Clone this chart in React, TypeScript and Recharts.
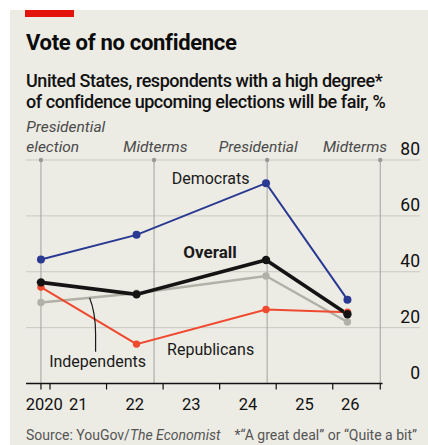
import { LineChart, Line, XAxis, YAxis, ReferenceLine, ReferenceDot } from 'recharts';

// poll dates as decimal years
const pollDates = [2020.84, 2022.53, 2024.82, 2026.26];
const democrats = [44.4, 53.2, 71.7, 30.0];
const overall = [36.2, 31.9, 44.2, 24.8];
const independents = [29.0, 32.3, 38.5, 22.0];
const republicans = [34.5, 14.1, 26.5, 25.5];

const electionDates = [2020.84, 2022.84, 2024.84, 2026.84];
const electionLabels = [['Presidential', 'election'], ['Midterms'], ['Presidential'], ['Midterms']];

const yearTicks = [2020.84, 2021, 2022, 2023, 2024, 2025, 2026, 2026.84];
const yearLabels = ['2020', '21', '22', '23', '24', '25', '26'];
const yearLabelPos = [2020.9, 2021.5, 2022.5, 2023.5, 2024.5, 2025.5, 2026.31];
const valueTicks = [0, 20, 40, 60, 80];
const gridValues = [20, 40, 60, 80];

const data = pollDates.map((d, i) => ({
    date: d,
    democrats: democrats[i],
    overall: overall[i],
    independents: independents[i],
    republicans: republicans[i],
}));

const FONT = 'Roboto, sans-serif';
const BG = '#ECEBE4';
const X_DOMAIN = [2020.5756, 2027.543];

// horizontal nudges for the election labels, relative to their gridline
const electionLabelDx = [-14.7, -30.7, -48.4, -57.3];

const XTick = (props: any) => {
    const { x, y, payload } = props;
    const v = payload.value;
    if (yearTicks.includes(v)) {
        return <line x1={x} x2={x} y1={y} y2={y + 6} stroke="#111" strokeWidth={1.2} />;
    }
    const i = yearLabelPos.indexOf(v);
    return (
        <text x={x} y={y + 26.5} textAnchor="middle" fontFamily={FONT} fontSize={16.5} fill="#111">
            {yearLabels[i]}
        </text>
    );
};

const YTick = (props: any) => {
    const { x, y, payload } = props;
    return (
        <text x={x} y={y - 5} textAnchor="end" fontFamily={FONT} fontSize={17.5} fill="#111">
            {payload.value}
        </text>
    );
};

const textLabel = (label: string, bold = false) => (p: any) => (
    <text x={p.cx} y={p.cy} textAnchor="middle" fontFamily={FONT} fontSize={bold ? 17 : 16}
        fontWeight={bold ? 700 : 400} fill="#1a1a1a">
        {label}
    </text>
);

const electionMarker = (i: number) => (p: any) => (
    <g>
        <circle cx={p.cx} cy={p.cy} r={2.2} fill="#9a9a96" />
        {electionLabels[i].map((t, k) => (
            <text key={k} x={p.cx + electionLabelDx[i]}
                y={p.cy - 8.3 - (electionLabels[i].length - 1 - k) * 20}
                fontFamily={FONT} fontSize={15.5} fontStyle="italic" fill="#4a4a4a">
                {t}
            </text>
        ))}
    </g>
);

const independentsNote = (p: any) => (
    <g>
        <path d={`M${p.cx},${p.cy} C${p.cx + 4},${p.cy + 10} ${p.cx + 6},${p.cy + 22} ${p.cx + 6},${p.cy + 36} L${p.cx + 6},${p.cy + 54}`}
            fill="none" stroke="#1a1a1a" strokeWidth={1.2} />
        <text x={p.cx + 8} y={p.cy + 69} textAnchor="middle" fontFamily={FONT} fontSize={16} fill="#1a1a1a">
            Independents
        </text>
    </g>
);

export default function App() {
    return (
        <div style={{ position: 'absolute', left: 10, top: 10, width: 418, height: 435, background: BG, fontFamily: FONT, overflow: 'hidden' }}>
            <div style={{ position: 'absolute', left: 15, top: 0, width: 49, height: 7, background: '#E3120B' }} />
            <div style={{ position: 'absolute', left: 16, top: 19.5, fontSize: 22, lineHeight: '26px', fontWeight: 700, letterSpacing: -0.3, color: '#0c0c0c', whiteSpace: 'nowrap' }}>
                Vote of no confidence
            </div>
            <div style={{ position: 'absolute', left: 16, top: 59.8, fontSize: 18, lineHeight: '21.5px', fontWeight: 500, letterSpacing: -0.45, color: '#111', whiteSpace: 'nowrap' }}>
                United States, respondents with a high degree*<br />
                of confidence upcoming elections will be fair, %
            </div>

            <div style={{ position: 'absolute', left: 0, top: 90 }}>
                <LineChart width={418} height={330} data={data} margin={{ top: 60, right: 8, bottom: 16.5, left: 16 }}>
                    <XAxis dataKey="date" type="number" domain={X_DOMAIN} allowDataOverflow
                        ticks={[...yearTicks, ...yearLabelPos].sort((a, b) => a - b)} interval={0}
                        tick={<XTick />} tickSize={0} tickMargin={0} tickLine={false} axisLine={false} height={30} />
                    <YAxis type="number" domain={[0, 80]} ticks={valueTicks} orientation="right" width={8} mirror
                        tick={<YTick />} tickSize={0} tickMargin={0} tickLine={false} axisLine={false} allowDataOverflow />

                    {gridValues.map(v => (
                        <ReferenceLine key={'h' + v} y={v} stroke="#CAC9C2" strokeWidth={1} />
                    ))}
                    {electionDates.map(d => (
                        <ReferenceLine key={'v' + d} x={d} stroke="#A3A39E" strokeWidth={1} />
                    ))}
                    <ReferenceLine segment={[{ x: X_DOMAIN[0], y: 0 }, { x: 2026.88, y: 0 }]} stroke="#111" strokeWidth={1.5} />
                    {electionDates.map((d, i) => (
                        <ReferenceDot key={'e' + d} x={d} y={80} r={2} ifOverflow="visible" shape={electionMarker(i)} />
                    ))}

                    <Line dataKey="independents" stroke="#B2B1A7" strokeWidth={2.4} isAnimationActive={false}
                        dot={{ r: 3.7, fill: '#B2B1A7', stroke: 'none' }} activeDot={false} />
                    <Line dataKey="republicans" stroke="#EF4A30" strokeWidth={2} isAnimationActive={false}
                        dot={{ r: 3.7, fill: '#EF4A30', stroke: 'none' }} activeDot={false} />
                    <Line dataKey="democrats" stroke="#2A3A92" strokeWidth={2} isAnimationActive={false}
                        dot={{ r: 4, fill: '#2A3A92', stroke: 'none' }} activeDot={false} />
                    <Line dataKey="overall" stroke="#141414" strokeWidth={3.6} isAnimationActive={false}
                        dot={{ r: 4.2, fill: '#141414', stroke: 'none' }} activeDot={false} />

                    <ReferenceDot x={2023.84} y={71.5} r={0} shape={textLabel('Democrats')} />
                    <ReferenceDot x={2023.83} y={45.0} r={0} shape={textLabel('Overall', true)} />
                    <ReferenceDot x={2023.84} y={10.1} r={0} shape={textLabel('Republicans')} />
                    <ReferenceDot x={2021.7} y={30.7} r={0} shape={independentsNote} />
                </LineChart>
            </div>

            <div style={{ position: 'absolute', left: 16, top: 416.7, fontSize: 14, lineHeight: '17px', color: '#555', whiteSpace: 'nowrap' }}>
                Source: YouGov/<i>The Economist</i>
            </div>
            <div style={{ position: 'absolute', right: 11, top: 416.7, fontSize: 14, lineHeight: '17px', color: '#555', whiteSpace: 'nowrap' }}>
                *“A great deal” or “Quite a bit”
            </div>
        </div>
    );
}
